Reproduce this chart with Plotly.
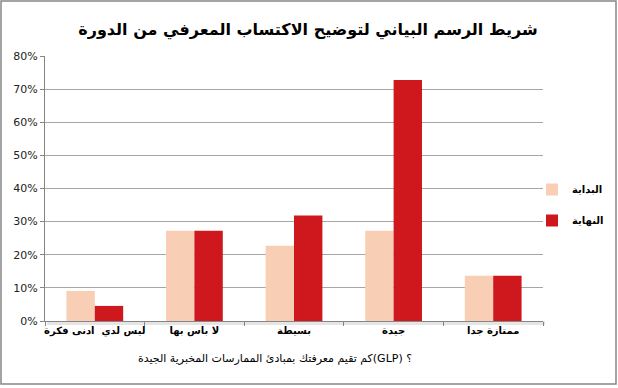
import plotly.graph_objects as go

categories = ["ليس لدي  ادنى فكرة", "لا باس بها", "بسيطة", "جيدة", "ممتازة جدا"]
start_values = [0.0909, 0.2727, 0.2273, 0.2727, 0.1364]
end_values = [0.0455, 0.2727, 0.3182, 0.7273, 0.1364]
series_names = ["البداية", "النهاية"]
y_ticks = [0, 0.1, 0.2, 0.3, 0.4, 0.5, 0.6, 0.7, 0.8]

title_text = "شريط الرسم البياني لتوضيح الاكتساب المعرفي من الدورة"
x_title = "كم تقيم معرفتك بمبادئ الممارسات المخبرية الجيدة(GLP) ؟"

FONT = "DejaVu Sans, Arial, sans-serif"
PW, PH = 498, 265  # plot area size in px

fig = go.Figure()
fig.add_trace(go.Bar(x=categories, y=start_values, name="<b>" + series_names[0] + "</b>",
                     legendgroup="a",
                     marker=dict(color="#F8CFB4", line=dict(width=0))))
fig.add_trace(go.Bar(x=categories, y=end_values, name="<b>" + series_names[1] + "</b>",
                     legendgroup="b",
                     marker=dict(color="#CF181E", line=dict(width=0))))

fig.update_layout(
    width=618, height=388,
    margin=dict(l=45, r=75, t=56, b=67, autoexpand=False),
    paper_bgcolor="white", plot_bgcolor="white",
    barmode="group", bargap=0.43, bargroupgap=0,
    font=dict(family=FONT, color="#000000"),
    title=dict(text="<b>" + title_text + "</b>", x=308 / 618, xref="container", xanchor="center",
               y=1 - 29 / 388, yanchor="middle",
               font=dict(size=16, family=FONT, color="#000000")),
    legend=dict(xref="container", yref="container", x=532 / 618, xanchor="left",
                y=1 - 205 / 388, yanchor="middle",
                font=dict(size=10, color="#000000"), itemwidth=30,
                tracegroupgap=12, bgcolor="rgba(0,0,0,0)"),
    showlegend=True,
    hovermode=False,
)
fig.update_xaxes(type="category", tickson="boundaries", ticks="outside", ticklen=4,
                 tickcolor="#868686", showline=True, linecolor="#868686", linewidth=1,
                 showgrid=False, tickfont=dict(size=10, color="#000000", family=FONT),
                 tickangle=0, tickprefix="<b>", ticksuffix="</b>")
fig.update_yaxes(range=[0, 0.8], tickvals=y_ticks, tickformat=".0%", ticks="outside",
                 ticklen=4, tickcolor="#868686", showline=True, linecolor="#868686",
                 linewidth=1, showgrid=True, gridcolor="#A6A6A6", gridwidth=1,
                 zeroline=False, tickfont=dict(size=11, color="#222222"))
fig.add_annotation(text=x_title, xref="paper", yref="paper", x=(275 - 45) / PW, y=-37 / PH,
                   xanchor="center", yanchor="middle", showarrow=False,
                   font=dict(size=11, color="#000000"))
# drop shadow under the plot area
fig.add_shape(type="rect", xref="paper", yref="paper", x0=2 / PW, x1=1 + 2 / PW,
              y0=-4 / PH, y1=0, line=dict(width=0), fillcolor="rgba(0,0,0,0.10)", layer="below")
# chart outer border
fig.add_shape(type="rect", xref="paper", yref="paper", x0=-44 / PW, x1=(616 - 45) / PW,
              y0=-63 / PH, y1=320 / PH,
              line=dict(color="#868686", width=1.5), fillcolor="rgba(0,0,0,0)", layer="above")

fig.write_html("out.html", config={"displayModeBar": False, "staticPlot": True},
               post_script="document.body.style.margin='0';")
